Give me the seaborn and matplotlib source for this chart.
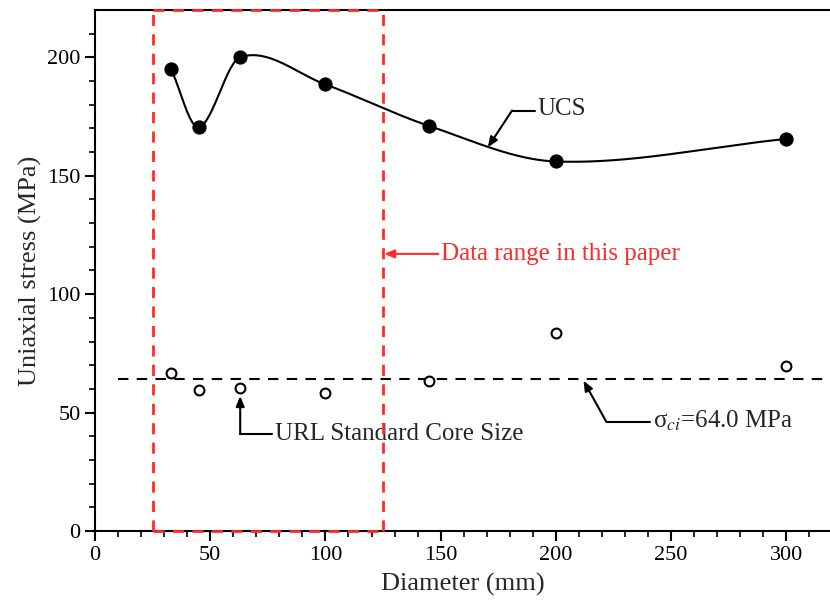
import numpy as np
import pandas as pd
import matplotlib
matplotlib.use("Agg")
import matplotlib.pyplot as plt
import seaborn as sns

# ---- data ----
diameter = [33, 45, 63, 100, 145, 200, 300]
ucs = [195, 170.5, 200, 188.5, 171, 156, 165.5]
sigma_ci_pts = [66.7, 59.5, 60.3, 58.3, 63.2, 83.7, 69.8]
sigma_ci = 64.0
range_lo, range_hi = 25, 125
xticks = [0, 50, 100, 150, 200, 250, 300]
yticks = [0, 50, 100, 150, 200]

df = pd.DataFrame({"d": diameter, "ucs": ucs, "sci": sigma_ci_pts})


def hermite_spline(x, y, xs):
    """Cubic Hermite spline with finite-difference (Catmull-Rom style) slopes."""
    x = np.asarray(x, float); y = np.asarray(y, float)
    n = len(x)
    h = np.diff(x)
    delta = np.diff(y) / h
    d = np.zeros(n)
    d[0] = delta[0]
    d[-1] = delta[-1]
    for k in range(1, n - 1):
        d[k] = (y[k + 1] - y[k - 1]) / (x[k + 1] - x[k - 1])
    out = np.empty_like(xs)
    for k, xv in enumerate(xs):
        i = min(max(np.searchsorted(x, xv) - 1, 0), n - 2)
        t = (xv - x[i]) / h[i]
        h00 = 2 * t**3 - 3 * t**2 + 1
        h10 = t**3 - 2 * t**2 + t
        h01 = -2 * t**3 + 3 * t**2
        h11 = t**3 - t**2
        out[k] = h00 * y[i] + h10 * h[i] * d[i] + h01 * y[i + 1] + h11 * h[i] * d[i + 1]
    return out


xs = np.linspace(diameter[0], diameter[-1], 800)
curve = pd.DataFrame({"d": xs, "ucs": hermite_spline(diameter, ucs, xs)})

sns.set_style("ticks")
plt.rcParams["font.family"] = ["Liberation Serif", "DejaVu Serif"]
plt.rcParams["mathtext.fontset"] = "stix"

fig = plt.figure(figsize=(8.3, 6.14), dpi=100)
ax = fig.add_axes([0.1145, 0.135, 0.8855, 0.849])

sns.lineplot(data=curve, x="d", y="ucs", ax=ax, color="black", lw=1.5, sort=False)
sns.scatterplot(data=df, x="d", y="ucs", ax=ax, color="black", s=90,
                edgecolor="black", zorder=5)
sns.scatterplot(data=df, x="d", y="sci", ax=ax, facecolor="white",
                edgecolor="black", linewidth=1.5, s=50, zorder=5)

ax.plot([10, 320], [sigma_ci, sigma_ci], color="black", lw=1.5,
        dashes=(5, 4), zorder=3)

red = "#ff2a2a"
for xv in (range_lo, range_hi):
    ax.plot([xv, xv], [0, 220], color=red, lw=2, dashes=(4, 3), zorder=4,
            clip_on=False)
for yv in (0, 220):
    ax.plot([range_lo, range_hi], [yv, yv], color=red, lw=2, dashes=(4, 3),
            zorder=6, clip_on=False)

ax.set_xlim(0, 319)
ax.set_ylim(0, 220)
ax.set_xticks(xticks)
ax.set_yticks(yticks)
ax.set_xticks(np.arange(10, 320, 10), minor=True)
ax.set_yticks(np.arange(10, 220, 10), minor=True)
ax.tick_params(axis="both", which="major", length=7, width=1.5,
               labelsize=16, direction="out", colors="black")
ax.tick_params(axis="both", which="minor", length=4, width=1.2,
               direction="out", colors="black")
for s in ("left", "bottom", "top"):
    ax.spines[s].set_linewidth(1.5)
    ax.spines[s].set_color("black")
ax.spines["right"].set_visible(False)
ax.tick_params(top=False, right=False)

ax.set_xlabel("Diameter (mm)", fontsize=19)
ax.set_ylabel("Uniaxial stress (MPa)", fontsize=19)
ax.xaxis.labelpad = 6

fs = 18
ap = dict(arrowstyle="-|>,head_length=0.6,head_width=0.25",
          color="black", lw=1.5, shrinkA=0, shrinkB=0)
# UCS label
ax.plot([181, 191], [177.5, 177.5], color="black", lw=1.5)
ax.annotate("", xy=(170.5, 162), xytext=(181, 177.5), arrowprops=ap)
ax.text(192, 178, "UCS", fontsize=fs, va="center", ha="left")

# Data range
ap_r = dict(ap, color=red)
ax.annotate("", xy=(125.5, 117), xytext=(149, 117), arrowprops=ap_r)
ax.text(150, 117, "Data range in this paper", fontsize=fs, va="center",
        ha="left", color=red)

# URL standard core size
ax.plot([63, 77], [41, 41], color="black", lw=1.5)
ax.annotate("", xy=(63, 57), xytext=(63, 41), arrowprops=ap)
ax.text(78, 41, "URL Standard Core Size", fontsize=fs, va="center", ha="left")

# sigma ci
ax.plot([222, 241], [46, 46], color="black", lw=1.5)
ax.annotate("", xy=(212, 63.5), xytext=(222, 46), arrowprops=ap)
ax.text(242, 46.5, "σ$_{ci}$=64.0 MPa", fontsize=fs, va="center", ha="left")

fig.savefig("out.png", dpi=100, facecolor="white")
